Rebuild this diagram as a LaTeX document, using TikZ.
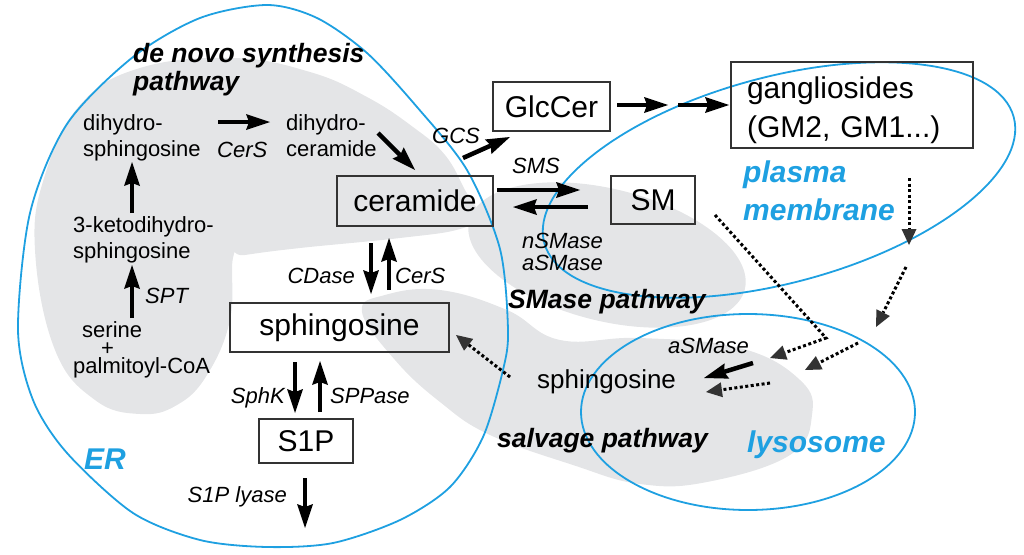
\documentclass[tikz,border=0pt]{standalone}
\usepackage{fontspec}
\setmainfont{Liberation Sans}
\usetikzlibrary{arrows.meta}
\definecolor{orgblue}{RGB}{30,160,225}
\definecolor{blobgray}{RGB}{228,229,231}
\tikzset{
  lbl/.style={font=\fontsize{22}{26}\selectfont, inner sep=0pt, anchor=base west, align=left},
  enz/.style={font=\fontsize{22}{22}\selectfont\itshape, inner sep=0pt},
  bx/.style={draw=black!80, line width=1.8pt, inner sep=0pt, font=\fontsize{30}{30}\selectfont},
  pw/.style={font=\fontsize{26.5}{28}\selectfont\bfseries\itshape, inner sep=0pt, anchor=base west, align=left},
  loc/.style={font=\fontsize{30}{38}\selectfont\bfseries\itshape, text=orgblue, inner sep=0pt, anchor=base west, align=left},
  memb/.style={draw=orgblue, line width=1.8pt},
  blob/.style={fill=blobgray, draw=none},
  arr/.style={line width=4.5pt, -{Stealth[length=24pt, width=16pt, inset=3pt, line width=0pt]}},
  darr/.style={line width=3pt, dash pattern=on 3pt off 2.5pt, -{Triangle[length=16pt, width=15pt, line width=0pt, fill=black!80, color=black!80]}},
}
\begin{document}
\begin{tikzpicture}[x=1pt, y=-1pt]
  %%%%% START %%%%%
  \useasboundingbox (0,0) rectangle (1024,554);

  % gray pathway areas
  \fill[blob] plot[smooth cycle, tension=0.7] coordinates {(233,258) (230,320) (207,375) (177,405) (140,414) (95,400) (55,350) (35,250) (45,175) (80,105) (140,68) (233,58) (310,72) (367,97) (413,127) (445,155) (465,190) (478,215) (460,229) (400,238) (300,248) (245,255)};
  \fill[blob, rotate around={-14:(607,255)}] (607,255) ellipse [x radius=142, y radius=66];
  \fill[blob] plot[smooth cycle, tension=0.7] coordinates {(362,312) (385,295) (440,290) (507,310) (560,340) (640,338) (740,348) (800,380) (812,415) (790,455) (707,482) (640,484) (573,465) (490,435) (440,402) (395,360)};

  % compartments
  \draw[memb] plot[smooth cycle] coordinates {(267,5) (317,18) (367,53) (417,107) (467,170) (500,249) (508,330) (503,370) (483,437) (450,487) (400,520) (333,543) (267,547) (200,540) (133,513) (67,453) (33,400) (18,330) (30,213) (67,124) (133,57) (200,18)};
  \draw[memb, rotate around={15:(779,180)}] (779,180) ellipse [x radius=243, y radius=103];
  \draw[memb] (748,412) ellipse [x radius=167, y radius=98];

  % boxes
  \node[bx, minimum width=156pt, minimum height=50pt] (cer) at (415,201) {ceramide};
  \node[bx, minimum width=219pt, minimum height=49pt] (sph) at (339.5,327.5) {sphingosine};
  \node[bx, minimum width=94pt, minimum height=44pt] (s1p) at (306,441) {S1P};
  \node[bx, minimum width=117pt, minimum height=49pt] (glc) at (551.5,106.5) {GlcCer};
  \node[bx, minimum width=84pt, minimum height=48pt] (sm) at (653,200) {SM};
  \node[bx, minimum height=86pt, text width=210pt, inner xsep=16pt, align=left, font=\fontsize{30}{39}\selectfont] (gang) at (852,105) {\rule{0pt}{33pt}gangliosides\\(GM2, GM1...)};

  % metabolites
  \node[lbl] (dhs) at (83,156) {dihydro-\\sphingosine};
  \node[lbl] (dhc) at (286,156) {dihydro-\\ceramide};
  \node[lbl] (keto) at (73,258) {3-ketodihydro-\\sphingosine};
  \node[lbl, font=\fontsize{22}{18}\selectfont] (ser) at (73,373) {\hspace*{9pt}serine\\\hspace*{28pt}+\\palmitoyl-CoA};
  \node[lbl, font=\fontsize{26}{26}\selectfont] (sph2) at (537,388) {sphingosine};

  % enzymes
  \node[enz, anchor=base west] (cers1) at (217,157) {CerS};
  \node[enz, anchor=base west] (spt) at (145,303) {SPT};
  \node[enz, anchor=base east] (cdase) at (355,283) {CDase};
  \node[enz, anchor=base west] (cers2) at (395,283) {CerS};
  \node[enz, anchor=base east] (sphk) at (285,403) {SphK};
  \node[enz, anchor=base west] (sppase) at (330,403) {SPPase};
  \node[enz, anchor=base east] (lyase) at (287,502) {S1P lyase};
  \node[enz, anchor=base west] (gcs) at (432,143) {GCS};
  \node[enz, anchor=base west] (sms) at (512,173) {SMS};
  \node[enz, anchor=base west, align=left] (nsm) at (522,270) {nSMase\\aSMase};
  \node[enz, anchor=base west] (asm) at (668,353) {aSMase};

  % pathways and compartments
  \node[pw] (denovo) at (133,90) {de novo synthesis\\pathway};
  \node[pw] (smpath) at (508,308) {SMase pathway};
  \node[pw] (salv) at (497,447) {salvage pathway};
  \node[loc] (er) at (84,469) {ER};
  \node[loc] (pm) at (743,220) {plasma\\membrane};
  \node[loc] (lyso) at (747,452) {lysosome};

  % arrow ends
  \coordinate (dhsA) at (218,122);  \coordinate (dhsB) at (270,122);
  \coordinate (dhcA) at (378,133);  \coordinate (dhcB) at (415,170);
  \coordinate (ketoA) at (132,213); \coordinate (ketoB) at (132,162);
  \coordinate (sptA) at (132,318);  \coordinate (sptB) at (132,265);
  \coordinate (cdA) at (371,243);   \coordinate (cdB) at (371,294);
  \coordinate (csA) at (389,290);   \coordinate (csB) at (389,238);
  \coordinate (skA) at (295,362);   \coordinate (skB) at (295,413);
  \coordinate (spA) at (320,412);   \coordinate (spB) at (320,361);
  \coordinate (lyA) at (305,478);   \coordinate (lyB) at (305,528);
  \coordinate (gcsA) at (463,158);  \coordinate (gcsB) at (510,137);
  \coordinate (smsA) at (497,190);  \coordinate (smsB) at (580,190);
  \coordinate (nsmA) at (588,207);  \coordinate (nsmB) at (513,207);
  \coordinate (gaA) at (617,105);   \coordinate (gaB) at (668,105);
  \coordinate (gbA) at (678,105);   \coordinate (gbB) at (729,105);
  \coordinate (asmA) at (753,363);  \coordinate (asmB) at (704,378);

  \draw[arr] (dhsA) -- (dhsB);
  \draw[arr] (dhcA) -- (dhcB);
  \draw[arr] (ketoA) -- (ketoB);
  \draw[arr] (sptA) -- (sptB);
  \draw[arr] (cdA) -- (cdB);
  \draw[arr] (csA) -- (csB);
  \draw[arr] (skA) -- (skB);
  \draw[arr] (spA) -- (spB);
  \draw[arr] (lyA) -- (lyB);
  \draw[arr] (gcsA) -- (gcsB);
  \draw[arr] (smsA) -- (smsB);
  \draw[arr] (nsmA) -- (nsmB);
  \draw[arr] (gaA) -- (gaB);
  \draw[arr] (gbA) -- (gbB);
  \draw[arr] (asmA) -- (asmB);

  % dotted transport arrows
  \coordinate (t1A) at (909,178); \coordinate (t1B) at (909,245);
  \coordinate (t2A) at (906,267); \coordinate (t2B) at (876,327);
  \coordinate (t3A) at (715,215); \coordinate (t3K) at (826,338); \coordinate (t3B) at (770,358);
  \coordinate (t4A) at (858,343); \coordinate (t4B) at (805,370);
  \coordinate (t5A) at (770,383); \coordinate (t5B) at (706,392);
  \coordinate (t6A) at (510,377); \coordinate (t6B) at (456,335);

  \draw[darr] (t1A) -- (t1B);
  \draw[darr] (t2A) -- (t2B);
  \draw[darr] (t3A) -- (t3K) -- (t3B);
  \draw[darr] (t4A) -- (t4B);
  \draw[darr] (t5A) -- (t5B);
  \draw[darr] (t6A) -- (t6B);
  %%%%% END %%%%%
\end{tikzpicture}
\end{document}
